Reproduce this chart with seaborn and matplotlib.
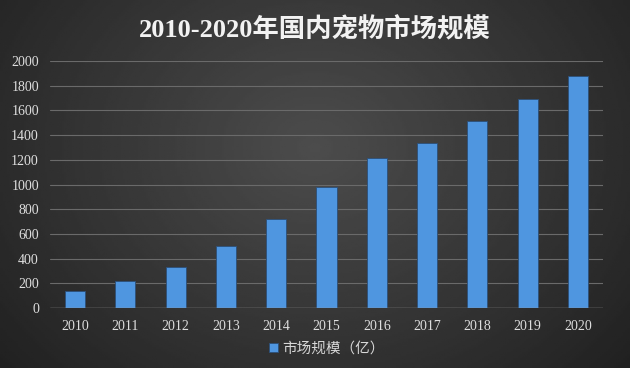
import numpy as np
import pandas as pd
import seaborn as sns
import matplotlib.pyplot as plt

years = ["2010", "2011", "2012", "2013", "2014", "2015",
         "2016", "2017", "2018", "2019", "2020"]
market = [140, 220, 330, 505, 720, 980, 1215, 1340, 1515, 1690, 1880]
yticks = list(range(0, 2001, 200))

df = pd.DataFrame({"year": years, "value": market})

sns.set_theme(style="dark")
plt.rcParams["font.family"] = ["Liberation Serif", "Noto Sans CJK SC", "DejaVu Sans"]

fig = plt.figure(figsize=(6.3, 3.68), dpi=100)

# dark background, lighter toward the middle
bg = fig.add_axes([0, 0, 1, 1], zorder=-10)
gx, gy = np.meshgrid(np.linspace(-1, 1, 300), np.linspace(-1, 1, 200))
shade = 0.30 - 0.13 * np.sqrt((gx / 1.0) ** 2 + ((gy + 0.2) / 1.4) ** 2)
bg.imshow(shade, cmap="gray", vmin=0, vmax=1, aspect="auto", extent=[0, 1, 0, 1])
bg.axis("off")

ax = fig.add_axes([50 / 630, 1 - 308 / 368, 553 / 630, 247 / 368])
ax.patch.set_alpha(0)

sns.barplot(data=df, x="year", y="value", color="#4f96e0", width=0.4,
            saturation=1, edgecolor="#2c4f78", linewidth=0.6, ax=ax,
            label="市场规模（亿）", zorder=3)

ax.set_ylim(0, 2000)
ax.set_xlim(-0.5, 10.5)
ax.set_yticks(yticks)
ax.set_xlabel("")
ax.set_ylabel("")
ax.grid(False)
for t in yticks[1:]:
    ax.axhline(t, color="#6a6a6a", linewidth=0.8, zorder=1)
ax.axhline(0, color="#9a9a9a", linewidth=1.0, zorder=4)
for s in ax.spines.values():
    s.set_visible(False)
ax.tick_params(axis="both", length=0, labelsize=10, colors="#dedede")
ax.tick_params(axis="y", pad=8)
ax.tick_params(axis="x", pad=9)

fig.text(0.5, 0.918, "2010-2020年国内宠物市场规模", ha="center", va="center",
         fontsize=19, fontweight="bold", color="#f2f2f2")

leg = ax.legend(loc="center", bbox_to_anchor=(0.5, -0.165), frameon=False,
                fontsize=10.5, handlelength=0.6, handleheight=0.6,
                handletextpad=0.3, labelcolor="#d8d8d8")

fig.savefig("out.png", dpi=100)
